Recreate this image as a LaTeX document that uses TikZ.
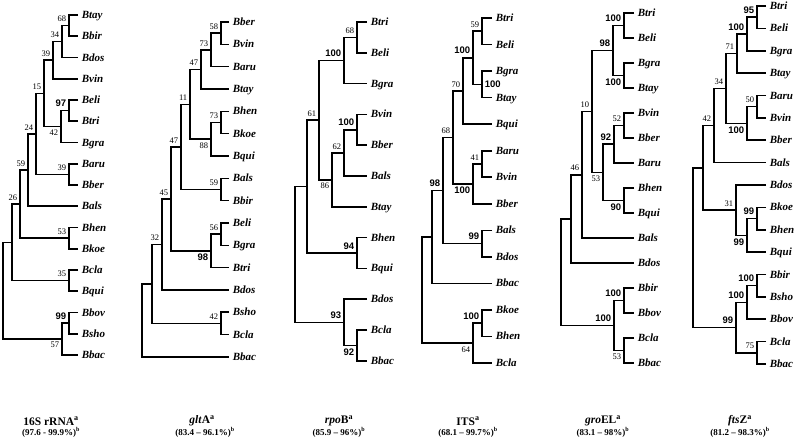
\documentclass[tikz,border=0pt]{standalone}
\usepackage{fontspec}
\setmainfont{Liberation Serif}
\newfontfamily\boldnum{Liberation Sans}
\usetikzlibrary{calc}

\begin{document}
\begin{tikzpicture}[x=1pt,y=-1pt,line width=1.6pt,
    leaf/.style={anchor=west,inner xsep=3pt,inner ysep=0pt,text height=7.5pt,text depth=0.5pt,font=\fontsize{11}{11}\selectfont\bfseries\itshape},
    bsup/.style={anchor=south east,inner sep=0.5pt,xshift=-1.5pt,yshift=2.5pt,font=\fontsize{8.5}{9}\selectfont},
    bsdn/.style={anchor=north east,inner sep=0.5pt,xshift=-1.5pt,yshift=-2pt,font=\fontsize{8.5}{9}\selectfont},
    bb/.style={font=\fontsize{9.5}{10}\selectfont\boldnum\bfseries},
    genename/.style={inner sep=0pt,font=\fontsize{11.5}{12}\selectfont\bfseries},
    idrange/.style={inner sep=0pt,font=\fontsize{9}{10}\selectfont\bfseries}]
  \useasboundingbox (0,0) rectangle (800,439);
  % clade: name, x of the node, two children
  \def\clade#1#2#3#4{\coordinate (#1m) at ($(#3)!.5!(#4)$); \coordinate (#1) at (#2,0 |- #1m); \draw (#3) -| (#1) |- (#4);}

  % 16S rRNA
  \foreach \n [count=\i from 0] in {Btay,Bbir,Bdos,Bvin,Beli,Btri,Bgra,Baru,Bber,Bals,Bhen,Bkoe,Bcla,Bqui,Bbov,Bsho,Bbac}
    \node[leaf] (a\n) at (78,15+21.25*\i) {\n};
  \clade{a1}{69}{aBtay}{aBbir}   \node[bsup] (la1) at (a1) {68};
  \clade{a2}{62}{a1}{aBdos}      \node[bsup] (la2) at (a2) {34};
  \clade{a3}{53}{a2}{aBvin}      \node[bsup] (la3) at (a3) {39};
  \clade{a4}{69}{aBeli}{aBtri}   \node[bsup,bb] (la4) at (a4) {97};
  \clade{a5}{61}{a4}{aBgra}      \node[bsdn] (la5) at (a5) {42};
  \clade{a6}{44}{a3}{a5}         \node[bsup] (la6) at (a6) {15};
  \clade{a7}{69}{aBaru}{aBber}   \node[bsup] (la7) at (a7) {39};
  \clade{a8}{36}{a6}{a7}         \node[bsup] (la8) at (a8) {24};
  \clade{a9}{28}{a8}{aBals}      \node[bsup] (la9) at (a9) {59};
  \clade{a10}{69}{aBhen}{aBkoe}  \node[bsup] (la10) at (a10) {53};
  \clade{a11}{20}{a9}{a10}       \node[bsup] (la11) at (a11) {26};
  \clade{a12}{69}{aBcla}{aBqui}  \node[bsup] (la12) at (a12) {35};
  \clade{a13}{12}{a11}{a12}
  \clade{a14}{69}{aBbov}{aBsho}  \node[bsup,bb] (la14) at (a14) {99};
  \clade{a15}{62}{a14}{aBbac}    \node[bsdn] (la15) at (a15) {57};
  \clade{a16}{3}{a13}{a15}

  % gltA
  \foreach \n [count=\i from 0] in {Bber,Bvin,Baru,Btay,Bhen,Bkoe,Bqui,Bals,Bbir,Beli,Bgra,Btri,Bdos,Bsho,Bcla,Bbac}
    \node[leaf] (b\n) at (229,22+22.33*\i) {\n};
  \clade{b1}{221}{bBber}{bBvin}  \node[bsup] (lb1) at (b1) {58};
  \clade{b2}{211}{b1}{bBaru}     \node[bsup] (lb2) at (b2) {73};
  \clade{b3}{201}{b2}{bBtay}     \node[bsup] (lb3) at (b3) {47};
  \clade{b4}{221}{bBhen}{bBkoe}  \node[bsup] (lb4) at (b4) {73};
  \clade{b5}{211}{b4}{bBqui}     \node[bsdn] (lb5) at (b5) {88};
  \clade{b6}{190}{b3}{b5}        \node[bsup] (lb6) at (b6) {11};
  \clade{b7}{221}{bBals}{bBbir}  \node[bsup] (lb7) at (b7) {59};
  \clade{b8}{181}{b6}{b7}        \node[bsup] (lb8) at (b8) {47};
  \clade{b9}{221}{bBeli}{bBgra}  \node[bsup] (lb9) at (b9) {56};
  \clade{b10}{211}{b9}{bBtri}    \node[bsdn,bb] (lb10) at (b10) {98};
  \clade{b11}{171}{b8}{b10}      \node[bsup] (lb11) at (b11) {45};
  \clade{b12}{162}{b11}{bBdos}   \node[bsup] (lb12) at (b12) {32};
  \clade{b13}{221}{bBsho}{bBcla} \node[bsup] (lb13) at (b13) {42};
  \clade{b14}{152}{b12}{b13}
  \clade{b15}{142}{b14}{bBbac}

  % rpoB
  \foreach \n [count=\i from 0] in {Btri,Beli,Bgra,Bvin,Bber,Bals,Btay,Bhen,Bqui,Bdos,Bcla,Bbac}
    \node[leaf] (c\n) at (367,22+30.8*\i) {\n};
  \clade{c1}{357}{cBtri}{cBeli}  \node[bsup] (lc1) at (c1) {68};
  \clade{c2}{344}{c1}{cBgra}     \node[bsup,bb] (lc2) at (c2) {100};
  \clade{c3}{357}{cBvin}{cBber}  \node[bsup,bb] (lc3) at (c3) {100};
  \clade{c4}{344}{c3}{cBals}     \node[bsup] (lc4) at (c4) {62};
  \clade{c5}{332}{c4}{cBtay}     \node[bsdn] (lc5) at (c5) {86};
  \clade{c6}{319}{c2}{c5}        \node[bsup] (lc6) at (c6) {61};
  \clade{c7}{357}{cBhen}{cBqui}  \node[bsup,bb] (lc7) at (c7) {94};
  \clade{c8}{307}{c6}{c7}
  \clade{c9}{357}{cBcla}{cBbac}  \node[bsdn,bb] (lc9) at (c9) {92};
  \clade{c10}{344}{cBdos}{c9}    \node[bsup,bb] (lc10) at (c10) {93};
  \clade{c11}{295}{c8}{c10}

  % ITS
  \foreach \n [count=\i from 0] in {Btri,Beli,Bgra,Btay,Bqui,Baru,Bvin,Bber,Bals,Bdos,Bbac,Bkoe,Bhen,Bcla}
    \node[leaf] (d\n) at (492,18+26.54*\i) {\n};
  \clade{d1}{482}{dBtri}{dBeli}  \node[bsup] (ld1) at (d1) {59};
  \clade{d2}{482}{dBgra}{dBtay}  \node[anchor=west,inner sep=0.5pt,xshift=1.5pt,bb] (ld2) at (d2) {100};
  \clade{d3}{473}{d1}{d2}        \node[bsup,bb] (ld3) at (d3) {100};
  \clade{d4}{463}{d3}{dBqui}     \node[bsup] (ld4) at (d4) {70};
  \clade{d5}{482}{dBaru}{dBvin}  \node[bsup] (ld5) at (d5) {41};
  \clade{d6}{473}{d5}{dBber}     \node[bsdn,bb] (ld6) at (d6) {100};
  \clade{d7}{453}{d4}{d6}        \node[bsup] (ld7) at (d7) {68};
  \clade{d8}{482}{dBals}{dBdos}  \node[bsup,bb] (ld8) at (d8) {99};
  \clade{d9}{443}{d7}{d8}        \node[bsup,bb] (ld9) at (d9) {98};
  \clade{d10}{432}{d9}{dBbac}
  \clade{d11}{482}{dBkoe}{dBhen} \node[bsup,bb] (ld11) at (d11) {100};
  \clade{d12}{473}{d11}{dBcla}   \node[bsdn] (ld12) at (d12) {64};
  \clade{d13}{422}{d10}{d12}

  % groEL
  \foreach \n [count=\i from 0] in {Btri,Beli,Bgra,Btay,Bvin,Bber,Baru,Bhen,Bqui,Bals,Bdos,Bbir,Bbov,Bcla,Bbac}
    \node[leaf] (e\n) at (634,13+25*\i) {\n};
  \clade{e1}{624}{eBtri}{eBeli}  \node[bsup,bb] (le1) at (e1) {100};
  \clade{e2}{624}{eBgra}{eBtay}  \node[bsdn,bb] (le2) at (e2) {100};
  \clade{e3}{613}{e1}{e2}        \node[bsup,bb] (le3) at (e3) {98};
  \clade{e4}{624}{eBvin}{eBber}  \node[bsup] (le4) at (e4) {52};
  \clade{e5}{614}{e4}{eBaru}     \node[bsup,bb] (le5) at (e5) {92};
  \clade{e6}{624}{eBhen}{eBqui}  \node[bsdn,bb] (le6) at (e6) {90};
  \clade{e7}{603}{e5}{e6}        \node[bsdn] (le7) at (e7) {53};
  \clade{e8}{592}{e3}{e7}        \node[bsup] (le8) at (e8) {10};
  \clade{e9}{582}{e8}{eBals}     \node[bsup] (le9) at (e9) {46};
  \clade{e10}{571}{e9}{eBdos}
  \clade{e11}{624}{eBbir}{eBbov} \node[bsup,bb] (le11) at (e11) {100};
  \clade{e12}{624}{eBcla}{eBbac} \node[bsdn] (le12) at (e12) {53};
  \clade{e13}{614}{e11}{e12}     \node[bsup,bb] (le13) at (e13) {100};
  \clade{e14}{561}{e10}{e13}

  % ftsZ
  \foreach \n [count=\i from 0] in {Btri,Beli,Bgra,Btay,Baru,Bvin,Bber,Bals,Bdos,Bkoe,Bhen,Bqui,Bbir,Bsho,Bbov,Bcla,Bbac}
    \node[leaf] (f\n) at (766,6+22.375*\i) {\n};
  \clade{f1}{757}{fBtri}{fBeli}  \node[bsup,bb] (lf1) at (f1) {95};
  \clade{f2}{747}{f1}{fBgra}     \node[bsup,bb] (lf2) at (f2) {100};
  \clade{f3}{737}{f2}{fBtay}     \node[bsup] (lf3) at (f3) {71};
  \clade{f4}{757}{fBaru}{fBvin}  \node[bsup] (lf4) at (f4) {50};
  \clade{f5}{747}{f4}{fBber}     \node[bsdn,bb] (lf5) at (f5) {100};
  \clade{f6}{726}{f3}{f5}        \node[bsup] (lf6) at (f6) {34};
  \clade{f7}{714}{f6}{fBals}     \node[bsup] (lf7) at (f7) {42};
  \clade{f8}{757}{fBkoe}{fBhen}  \node[bsup,bb] (lf8) at (f8) {99};
  \clade{f9}{747}{f8}{fBqui}     \node[bsdn,bb] (lf9) at (f9) {99};
  \clade{f10}{736}{fBdos}{f9}    \node[bsup] (lf10) at (f10) {31};
  \clade{f11}{703}{f7}{f10}
  \clade{f12}{757}{fBbir}{fBsho} \node[bsup,bb] (lf12) at (f12) {100};
  \clade{f13}{747}{f12}{fBbov}   \node[bsup,bb] (lf13) at (f13) {100};
  \clade{f14}{757}{fBcla}{fBbac} \node[bsup] (lf14) at (f14) {75};
  \clade{f15}{736}{f13}{f14}     \node[bsup,bb] (lf15) at (f15) {99};
  \clade{f16}{693}{f11}{f15}

  % gene names and identity ranges
  \node[genename] (g16s) at (51,421) {16S rRNA\textsuperscript{a}};
  \node[idrange] (r16s) at (51,432) {(97.6 - 99.9\%)\textsuperscript{b}};
  \node[genename] (ggla) at (202,421) {\textit{glt}A\textsuperscript{a}};
  \node[idrange] (rgla) at (205,432) {(83.4 -- 96.1\%)\textsuperscript{b}};
  \node[genename] (grpo) at (339,421) {\textit{rpo}B\textsuperscript{a}};
  \node[idrange] (rrpo) at (339,432) {(85.9 -- 96\%)\textsuperscript{b}};
  \node[genename] (gits) at (468,421) {ITS\textsuperscript{a}};
  \node[idrange] (rits) at (468,432) {(68.1 -- 99.7\%)\textsuperscript{b}};
  \node[genename] (ggro) at (603,421) {\textit{gro}EL\textsuperscript{a}};
  \node[idrange] (rgro) at (603,432) {(83.1 -- 98\%)\textsuperscript{b}};
  \node[genename] (gfts) at (740,421) {\textit{fts}Z\textsuperscript{a}};
  \node[idrange] (rfts) at (740,432) {(81.2 -- 98.3\%)\textsuperscript{b}};
\end{tikzpicture}
\end{document}
